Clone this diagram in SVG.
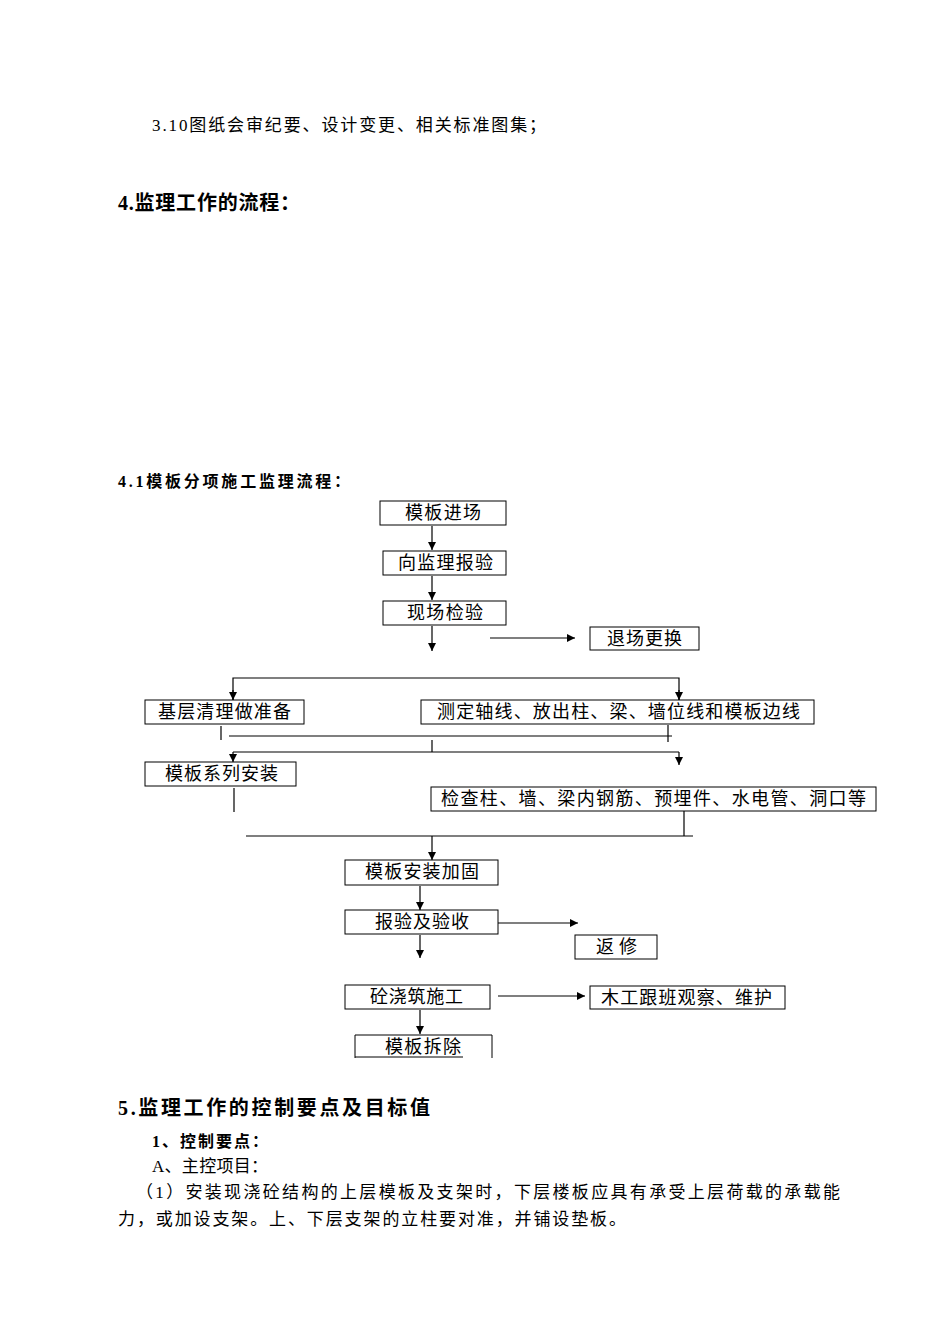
<svg xmlns="http://www.w3.org/2000/svg" width="950" height="1344" viewBox="0 0 950 1344">
<defs>
<style>
text{font-family:"Liberation Serif","Noto Sans CJK SC",serif;fill:#000}
.t{font-size:17px}
.b{font-weight:bold}
.n rect{fill:#fff;stroke:#000;stroke-width:1}
.n text{font-size:18px;lengthAdjust:spacing}
#c line,#c path{stroke:#000;stroke-width:1.2;fill:none}
</style>
<marker id="a" viewBox="0 0 10 10" refX="10" refY="5" markerWidth="8" markerHeight="8" markerUnits="userSpaceOnUse" orient="auto"><path d="M0,0L10,5L0,10z" fill="#000"/></marker>
</defs>
<rect width="950" height="1344" fill="#fff"/>
<text class="t" x="152" y="131" textLength="394">3.10图纸会审纪要、设计变更、相关标准图集；</text>
<text class="b" x="118" y="210" font-size="20" textLength="182">4.监理工作的流程：</text>
<text class="b" x="118" y="487" font-size="16" textLength="232">4.1模板分项施工监理流程：</text>
<g id="c">
<line x1="432" y1="526" x2="432" y2="550" marker-end="url(#a)"/>
<line x1="432" y1="576" x2="432" y2="600" marker-end="url(#a)"/>
<line x1="432" y1="626" x2="432" y2="651" marker-end="url(#a)"/>
<line x1="490" y1="638" x2="575" y2="638" marker-end="url(#a)"/>
<path d="M233,700V678H679V700"/>
<line x1="233" y1="690" x2="233" y2="700" marker-end="url(#a)"/>
<line x1="679" y1="690" x2="679" y2="700" marker-end="url(#a)"/>
<line x1="221" y1="726" x2="221" y2="740"/>
<line x1="668" y1="725" x2="668" y2="742"/>
<line x1="229" y1="736" x2="672" y2="736"/>
<line x1="432" y1="740" x2="432" y2="752"/>
<line x1="233" y1="752" x2="679" y2="752"/>
<line x1="233" y1="752" x2="233" y2="762" marker-end="url(#a)"/>
<line x1="679" y1="752" x2="679" y2="765" marker-end="url(#a)"/>
<line x1="234" y1="788" x2="234" y2="812"/>
<line x1="684" y1="811" x2="684" y2="836"/>
<line x1="246" y1="836" x2="693" y2="836"/>
<line x1="432" y1="836" x2="432" y2="860" marker-end="url(#a)"/>
<line x1="420" y1="886" x2="420" y2="910" marker-end="url(#a)"/>
<line x1="498" y1="923" x2="578" y2="923" marker-end="url(#a)"/>
<line x1="420" y1="935" x2="420" y2="958" marker-end="url(#a)"/>
<line x1="498" y1="996" x2="585" y2="996" marker-end="url(#a)"/>
<line x1="420" y1="1010" x2="420" y2="1034" marker-end="url(#a)"/>
</g>
<g class="n" id="n1"><rect x="380" y="501" width="126" height="24"/><text x="405" y="519" textLength="76">模板进场</text></g>
<g class="n" id="n2"><rect x="383" y="551" width="123" height="24"/><text x="398" y="569" textLength="95">向监理报验</text></g>
<g class="n" id="n3"><rect x="383" y="601" width="123" height="24"/><text x="407" y="619" textLength="76">现场检验</text></g>
<g class="n" id="n4"><rect x="590" y="627" width="109" height="23"/><text x="607" y="645" textLength="75">退场更换</text></g>
<g class="n" id="n5"><rect x="145" y="700" width="159" height="24"/><text x="158" y="718" textLength="133">基层清理做准备</text></g>
<g class="n" id="n6"><rect x="421" y="700" width="393" height="24"/><text x="437" y="718" textLength="363">测定轴线、放出柱、梁、墙位线和模板边线</text></g>
<g class="n" id="n7"><rect x="145" y="762" width="151" height="24"/><text x="165" y="780" textLength="113">模板系列安装</text></g>
<g class="n" id="n8"><rect x="431" y="787" width="445" height="24"/><text x="441" y="805" textLength="425">检查柱、墙、梁内钢筋、预埋件、水电管、洞口等</text></g>
<g class="n" id="n9"><rect x="345" y="860" width="153" height="25"/><text x="365" y="878" textLength="114">模板安装加固</text></g>
<g class="n" id="n10"><rect x="345" y="910" width="153" height="24"/><text x="375" y="928" textLength="94">报验及验收</text></g>
<g class="n" id="n11"><rect x="575" y="935" width="82" height="24"/><text x="596" y="953" textLength="41">返 修</text></g>
<g class="n" id="n12"><rect x="345" y="985" width="145" height="24"/><text x="370" y="1003" textLength="93">砼浇筑施工</text></g>
<g class="n" id="n13"><rect x="590" y="986" width="195" height="23"/><text x="601" y="1004" textLength="171">木工跟班观察、维护</text></g>
<g class="n" id="n14"><path d="M355,1058V1035H492V1058M355,1057H463" fill="none" stroke="#000"/><text x="385" y="1053" textLength="76">模板拆除</text></g>
<text class="b" x="118" y="1115" font-size="20" textLength="312">5.监理工作的控制要点及目标值</text>
<text class="b" x="152" y="1147" font-size="16" textLength="116">1、控制要点：</text>
<text class="t" x="152" y="1172" textLength="116">A、主控项目：</text>
<text class="t" x="136" y="1198" textLength="704">（1）安装现浇砼结构的上层模板及支架时，下层楼板应具有承受上层荷载的承载能</text>
<text class="t" x="118" y="1225" textLength="508">力，或加设支架。上、下层支架的立柱要对准，并铺设垫板。</text>
</svg>
